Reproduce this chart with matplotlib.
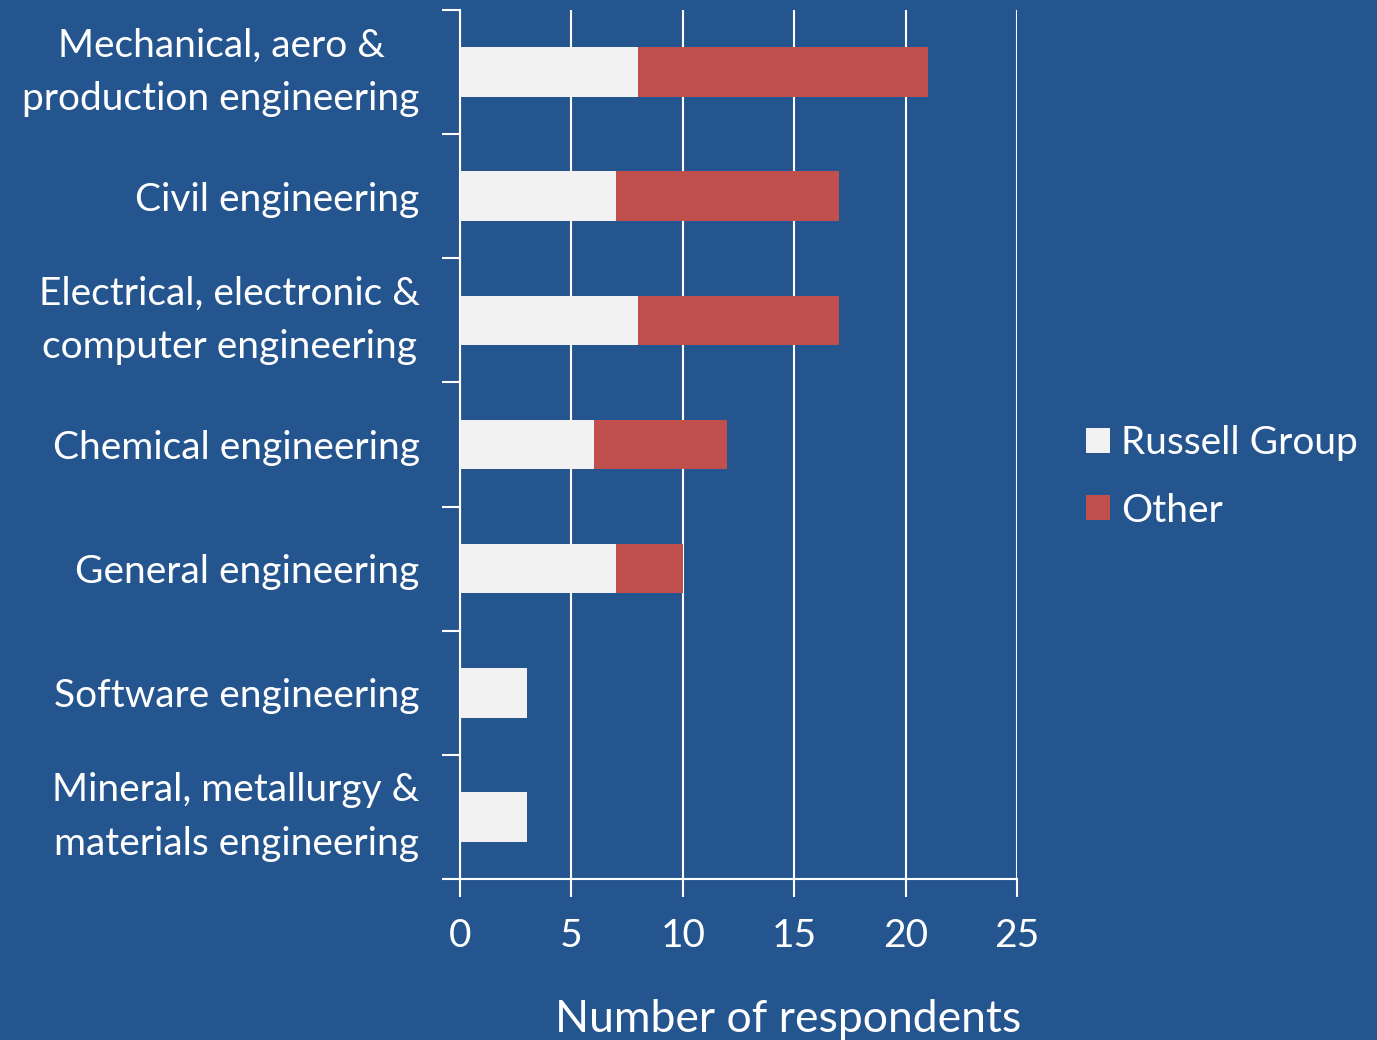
import numpy as np
import matplotlib.pyplot as plt
from matplotlib.ticker import MultipleLocator, FixedLocator

params = {"font.family": ["Lato", "DejaVu Sans"],
          "text.color": "white",
          "xtick.color": "white",
          "ytick.color": "white",
          "axes.edgecolor": "white",
          "axes.labelcolor": "white"}
plt.rcParams.update(params)

bg = "#25558F"
rg_color = "#F2F2F2"
other_color = "#C0504D"

categories = ["Mechanical, aero &\nproduction engineering",
              "Civil engineering",
              "Electrical, electronic &\ncomputer engineering",
              "Chemical engineering",
              "General engineering",
              "Software engineering",
              "Mineral, metallurgy &\nmaterials engineering"]
russell_group = [8, 7, 8, 6, 7, 3, 3]
other = [13, 10, 9, 6, 3, 0, 0]

fig = plt.figure(figsize=(13.77, 10.4), dpi=100, facecolor=bg)
ax = fig.add_axes([460 / 1377, 1 - 879 / 1040, (1017 - 460) / 1377, (879 - 10) / 1040])
ax.set_facecolor(bg)

y = np.arange(len(categories))
ax.barh(y, russell_group, height=0.4, color=rg_color, label="Russell Group", zorder=3)
ax.barh(y, other, height=0.4, left=russell_group, color=other_color, label="Other", zorder=3)

ax.set_xlim(0, 25)
ax.set_ylim(len(categories) - 0.5, -0.5)
ax.xaxis.set_major_locator(MultipleLocator(5))
ax.grid(axis="x", color="white", linewidth=1.5, zorder=1)

ax.set_yticks(y)
ax.set_yticklabels(categories, fontsize=28, ha="right", multialignment="center",
                   linespacing=1.6)
# two-line labels sit too low with center_baseline
for lbl in ax.get_yticklabels():
    if "\n" in lbl.get_text():
        lbl.set_va("center")
ax.tick_params(axis="y", which="major", length=0, pad=29)
ax.yaxis.set_minor_locator(FixedLocator(np.arange(-0.5, len(categories), 1.0)))
ax.tick_params(axis="y", which="minor", length=13, width=1.5, color="white")
ax.tick_params(axis="x", length=13, width=1.5, labelsize=28, pad=15)

for s in ["top", "right"]:
    ax.spines[s].set_visible(False)
for s in ["left", "bottom"]:
    ax.spines[s].set_linewidth(1.5)

ax.set_xlabel("Number of respondents", fontsize=32, va="center")
ax.xaxis.set_label_coords((788 - 460) / 557, (879 - 1020) / 869)

fig.legend(loc="center left", bbox_to_anchor=(1086 / 1377, 1 - 477 / 1040),
           frameon=False, fontsize=28, handlelength=0.62, handleheight=0.62,
           handletextpad=0.28, labelspacing=0.8, borderpad=0, borderaxespad=0)

fig.savefig("out.png", dpi=100, facecolor=bg)
